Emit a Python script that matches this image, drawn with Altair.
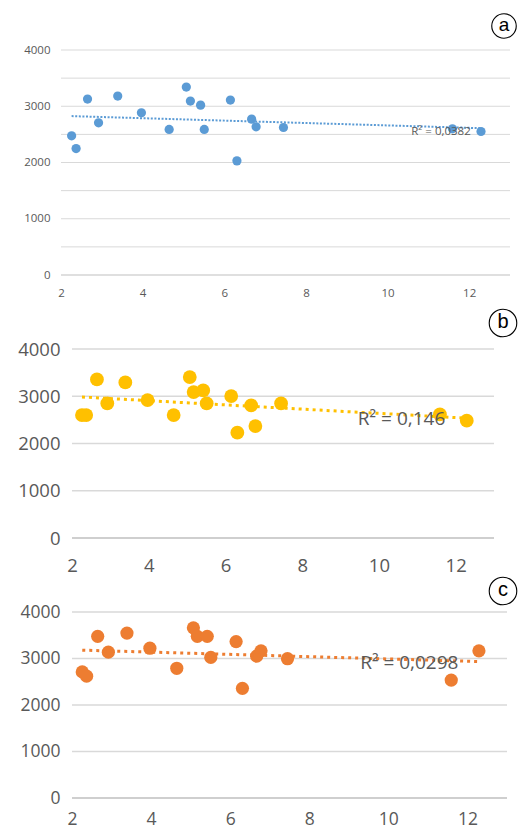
import altair as alt
import pandas as pd

# shared x values (same across the three panels)
x_vals = [2.26, 2.37, 2.65, 2.92, 3.39, 3.97, 4.65, 5.07, 5.17, 5.42, 5.51,
          6.15, 6.31, 6.67, 6.78, 7.45, 11.59, 12.29]
# panel (a) values
y_a = [2474, 2248, 3127, 2705, 3181, 2884, 2587, 3341, 3092, 3020, 2587,
       3110, 2029, 2771, 2634, 2622, 2599, 2551]
# panel (b) values
y_b = [2601, 2601, 3356, 2848, 3292, 2919, 2601, 3405, 3088, 3123, 2848,
       3003, 2228, 2806, 2369, 2848, 2616, 2482]
# panel (c) values
y_c = [2712, 2620, 3476, 3136, 3547, 3221, 2790, 3660, 3476, 3476, 3023,
       3363, 2358, 3051, 3165, 2995, 2535, 3165]

x_ticks = [2, 4, 6, 8, 10, 12]
y_ticks_a = [0, 500, 1000, 1500, 2000, 2500, 3000, 3500, 4000]
y_ticks_bc = [0, 1000, 2000, 3000, 4000]

r2_labels = ["R² = 0,0382", "R² = 0,146", "R² = 0,0298"]
letters = ["a", "b", "c"]

FONT = "Open Sans"
LABEL_COLOR = "#595959"
X_MIN, X_MAX = 2, 13


def panel(yvals, color, w, h, x_lo, yticks, pt_size, font_size, xlabel_pad,
          ylabel_pad, grid_w, dash, line_w, letter, letter_pos, circ_size,
          letter_font, r2, r2_pos, r2_font, extra_bottom=0):
    df = pd.DataFrame({"x": x_vals, "y": yvals})
    one = pd.DataFrame({"k": [0]})
    grid_df = pd.DataFrame({"v": [t for t in yticks if t != 0]})
    base_df = pd.DataFrame({"v": [0]})
    xscale = alt.Scale(domain=[x_lo, X_MAX], nice=False, zero=False)
    yscale = alt.Scale(domain=[0, 4000], nice=False)
    xaxis = alt.Axis(values=x_ticks, title=None, ticks=False, format="d",
                     domain=False, labelFont=FONT, labelFontSize=font_size,
                     labelColor=LABEL_COLOR, labelPadding=xlabel_pad,
                     gridColor="#d9d9d9", gridWidth=grid_w, labelFlush=False)
    yaxis = alt.Axis(values=yticks, title=None, ticks=False, domain=False,
                     grid=False, format="d", labelFont=FONT,
                     labelFontSize=font_size, labelColor=LABEL_COLOR,
                     labelPadding=ylabel_pad, minExtent=53, maxExtent=53,
                     labelFlush=False)
    grid = alt.Chart(grid_df).mark_rule(color="#d9d9d9", strokeWidth=grid_w).encode(
        x=alt.datum(X_MIN, scale=xscale), x2=alt.datum(X_MAX),
        y=alt.Y("v:Q", scale=yscale, axis=yaxis))
    baseline = alt.Chart(base_df).mark_rule(color="#bfbfbf", strokeWidth=grid_w).encode(
        x=alt.datum(X_MIN), x2=alt.datum(X_MAX), y=alt.Y("v:Q"))
    points = alt.Chart(df).mark_circle(size=pt_size, opacity=1, color=color).encode(
        x=alt.X("x:Q", scale=xscale, axis=xaxis), y=alt.Y("y:Q"))
    trend = alt.Chart(df).transform_regression("x", "y").mark_line(
        color=color, strokeDash=dash, strokeWidth=line_w).encode(x="x:Q", y="y:Q")
    r2_text = alt.Chart(one).mark_text(
        text=r2, font=FONT, fontSize=r2_font, color=LABEL_COLOR).encode(
        x=alt.datum(r2_pos[0]), y=alt.datum(r2_pos[1]))
    circ = alt.Chart(one).mark_point(
        shape="circle", size=circ_size, filled=False, stroke="black",
        strokeWidth=1.1, opacity=1).encode(
        x=alt.value(letter_pos[0]), y=alt.value(letter_pos[1]))
    let = alt.Chart(one).mark_text(
        text=letter, font="Liberation Sans", fontSize=letter_font, color="black",
        baseline="middle", dy=-1).encode(
        x=alt.value(letter_pos[0]), y=alt.value(letter_pos[1]))
    layers = [grid, baseline, points, trend, r2_text, circ, let]
    if extra_bottom:
        # invisible spacer that reserves room below the axis labels
        layers.append(alt.Chart(one).mark_point(
            opacity=0, size=16, strokeWidth=0, filled=True).encode(
            x=alt.value(20), y=alt.value(h + extra_bottom)))
    return alt.layer(*layers).properties(width=w, height=h)


pa = panel(y_a, "#5b9bd5", 449, 225, 2, y_ticks_a, 85, 11.5, 12, 11, 1,
           [2, 1.6], 2, letters[0], (443, -24), 600, 19,
           r2_labels[0], (11.31, 2545), 11.5, extra_bottom=29.5)
pb = panel(y_b, "#ffc000", 433, 189, 2 - 11 / 38.36, y_ticks_bc, 190, 18.5, 18,
           1, 1.5, [3, 4], 3, letters[1], (442, -26), 760, 20,
           r2_labels[1], (10.59, 2518), 19)
pc = panel(y_c, "#ed7d31", 446, 186, 2 - 11 / 39.6, y_ticks_bc, 175, 17.5, 12,
           1, 1.5, [3, 4], 3, letters[2], (442, -21), 760, 20,
           r2_labels[2], (10.53, 2910), 19)

chart = alt.vconcat(pa, pb, pc, spacing=0).properties(
    padding={"left": 0, "top": 3, "right": 0, "bottom": 0}
).configure_view(stroke=None)

chart.save("out.html", embed_options={"renderer": "svg", "actions": False})
